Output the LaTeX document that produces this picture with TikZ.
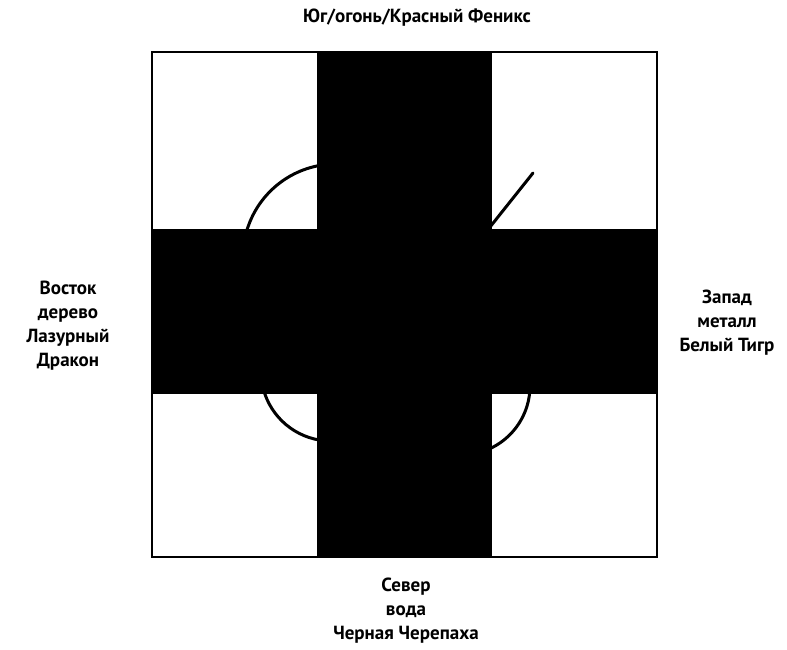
\documentclass[tikz,border=0pt]{standalone}
\usepackage{fontspec}
\setmainfont{PT Sans}
\begin{document}
\begin{tikzpicture}[x=1pt,y=-1pt,
  lbl/.style={align=center,font=\bfseries\fontsize{19}{24}\selectfont,inner sep=0pt},
  arcline/.style={line width=3pt},
  barfill/.style={fill=black}]
\useasboundingbox (0,0) rectangle (787,649);
% arcs (behind the cross)
\draw[arcline] (336,257) ++(195:93) arc[start angle=195, end angle=265, radius=93];
\draw[arcline] (331,371) ++(165:70) arc[start angle=165, end angle=95, radius=70];
\draw[arcline] (461,386) ++(0:69) arc[start angle=0, end angle=68, radius=69];
\draw[arcline,line cap=round] (490,227) -- (533,173);
% square
\draw[line width=2pt] (152,52) rectangle (657,557);
% cross
\fill[barfill] (317,52) rectangle (492,557);
\fill[barfill] (152,229) rectangle (658,394);
% labels
\node[lbl] (south) at (417,18) {Юг/огонь/Красный Феникс};
\node[lbl] (east) at (68,326) {Восток\\дерево\\Лазурный\\Дракон};
\node[lbl] (west) at (727,323) {Запад\\металл\\Белый Тигр};
\node[lbl] (north) at (406,611) {Север\\вода\\Черная Черепаха};
\end{tikzpicture}
\end{document}
